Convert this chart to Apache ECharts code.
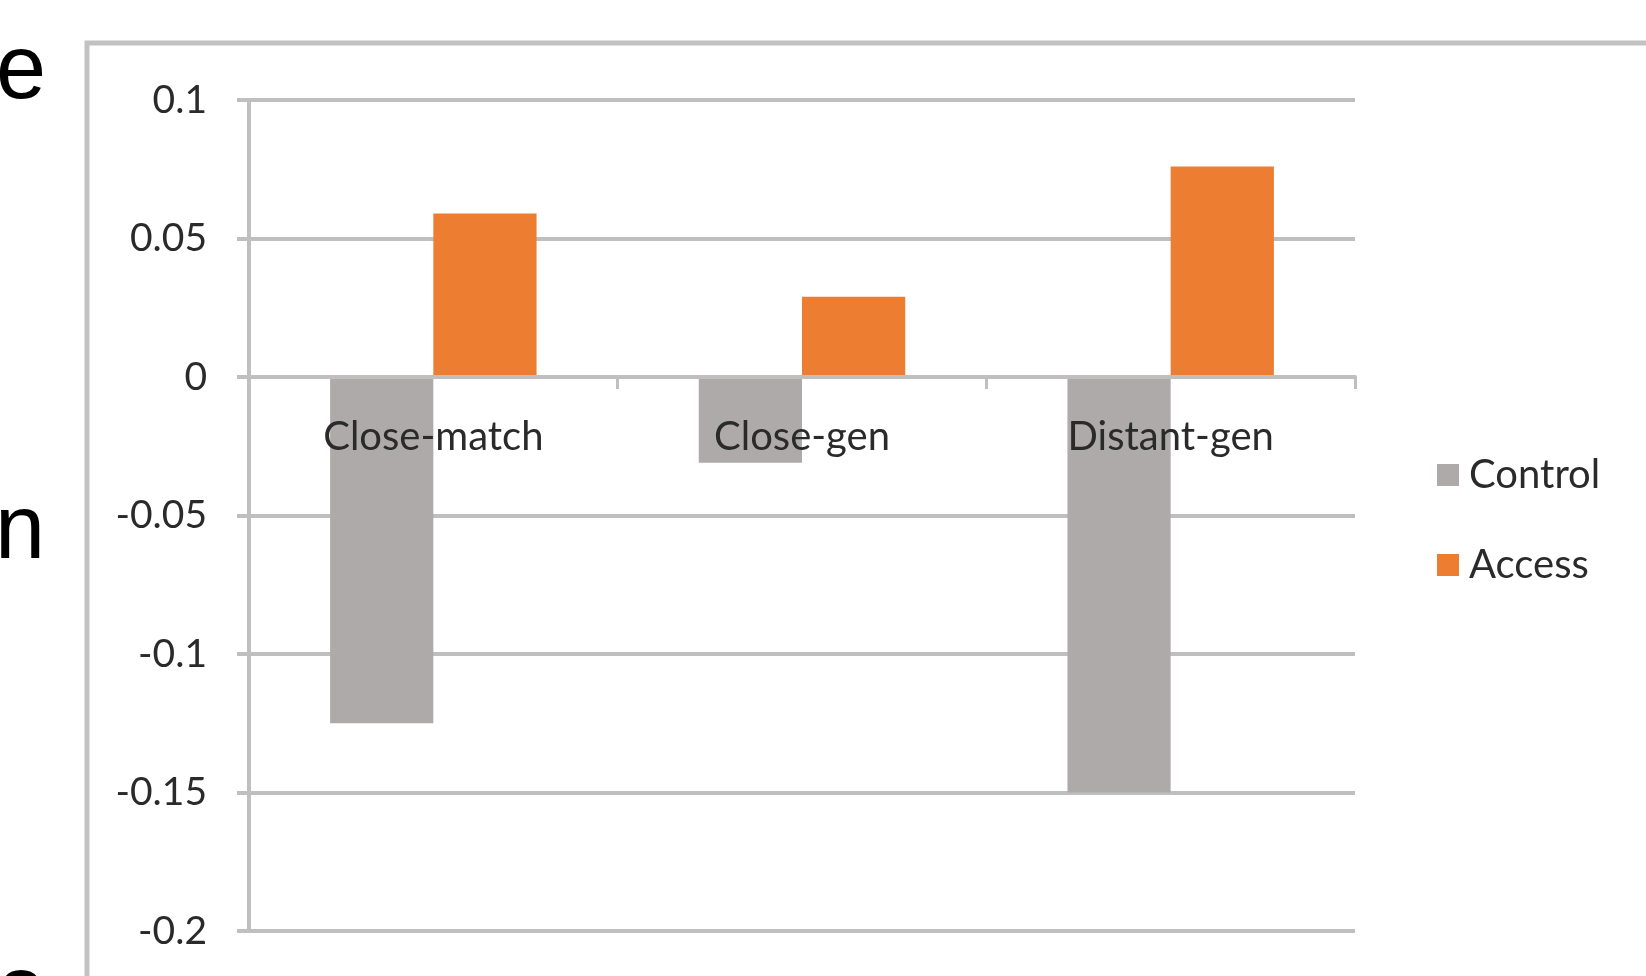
<!DOCTYPE html>
<html>
<head>
<meta charset="utf-8">
<title>Control vs Access</title>
<script src="https://cdn.jsdelivr.net/npm/echarts@6/dist/echarts.min.js"></script>
<style>
  html, body { margin: 0; padding: 0; background: #ffffff; }
  #chart { width: 1646px; height: 976px; }
</style>
</head>
<body>
<div id="chart"></div>
<script>
// Conditions on the category axis
const categories = ['Close-match', 'Close-gen', 'Distant-gen'];

// Mean change per condition for each group
const controlValues = [-0.125, -0.031, -0.15];
const accessValues = [0.059, 0.029, 0.076];

const seriesNames = ['Control', 'Access'];
const seriesColors = ['#aeaaaa', '#ed7d31'];

// Value axis range and step
const yMin = -0.2;
const yMax = 0.1;
const yStep = 0.05;

// Fragments of the surrounding slide text, clipped at the left edge
const sideLetters = ['e', 'n', 'e'];

const gridColor = '#bfbfbf';
const labelFont = 'Lato, "Open Sans", sans-serif';
const textColor = '#2a2a2a';

const gridTop = 100;
const gridBottom = 45;
const chartHeight = 976;
const plotHeight = chartHeight - gridTop - gridBottom;
// Category axis sits at value 0, measured up from the bottom of the plot
const zeroOffset = plotHeight * (0 - yMin) / (yMax - yMin);

const chart = echarts.init(document.getElementById('chart'), null, { renderer: 'canvas' });

const option = {
  backgroundColor: '#ffffff',
  animation: false,
  grid: {
    left: 249,
    right: 291,
    top: gridTop,
    bottom: gridBottom,
    containLabel: false,
    outerBoundsMode: 'none'
  },
  legend: {
    orient: 'vertical',
    left: 1437,
    top: 453,
    padding: 0,
    itemWidth: 22,
    itemHeight: 22,
    itemGap: 46,
    icon: 'rect',
    selectedMode: false,
    data: seriesNames,
    textStyle: {
      fontFamily: labelFont,
      fontSize: 40,
      color: textColor,
      lineHeight: 44,
      padding: [0, 0, 0, 5]
    }
  },
  xAxis: {
    type: 'category',
    data: categories,
    z: 5,
    position: 'bottom',
    offset: -zeroOffset,
    axisLine: {
      onZero: false,
      lineStyle: { color: gridColor, width: 4 }
    },
    axisTick: {
      show: true,
      alignWithLabel: false,
      length: 12,
      lineStyle: { color: gridColor, width: 3 }
    },
    axisLabel: {
      margin: 40,
      fontFamily: labelFont,
      fontSize: 40,
      color: textColor
    },
    splitLine: { show: false }
  },
  yAxis: {
    type: 'value',
    min: yMin,
    max: yMax,
    interval: yStep,
    axisLine: {
      show: true,
      lineStyle: { color: gridColor, width: 4 }
    },
    axisTick: {
      show: true,
      length: 12,
      lineStyle: { color: gridColor, width: 4 }
    },
    axisLabel: {
      margin: 42,
      fontFamily: labelFont,
      fontSize: 39,
      color: textColor
    },
    splitLine: {
      show: true,
      lineStyle: { color: gridColor, width: 4 }
    }
  },
  series: [
    {
      name: seriesNames[0],
      type: 'bar',
      data: controlValues,
      barGap: '0%',
      barCategoryGap: '44%',
      itemStyle: { color: seriesColors[0] },
      z: 2
    },
    {
      name: seriesNames[1],
      type: 'bar',
      data: accessValues,
      barGap: '0%',
      barCategoryGap: '44%',
      itemStyle: { color: seriesColors[1] },
      z: 2
    }
  ],
  graphic: [
    {
      type: 'rect',
      z: -10,
      silent: true,
      shape: { x: 87, y: 43, width: 1700, height: 1100 },
      style: { fill: 'none', stroke: '#c2c2c2', lineWidth: 5 }
    },
    {
      type: 'text',
      silent: true,
      style: {
        x: 46, y: 73, text: sideLetters[0], align: 'right', verticalAlign: 'middle',
        font: '90px "Liberation Sans", Arial, sans-serif', fill: '#000000'
      }
    },
    {
      type: 'text',
      silent: true,
      style: {
        x: 45, y: 533, text: sideLetters[1], align: 'right', verticalAlign: 'middle',
        font: '90px "Liberation Sans", Arial, sans-serif', fill: '#000000'
      }
    },
    {
      type: 'text',
      silent: true,
      style: {
        x: 46, y: 994, text: sideLetters[2], align: 'right', verticalAlign: 'middle',
        font: '90px "Liberation Sans", Arial, sans-serif', fill: '#000000'
      }
    }
  ]
};

chart.setOption(option);
</script>
</body>
</html>
